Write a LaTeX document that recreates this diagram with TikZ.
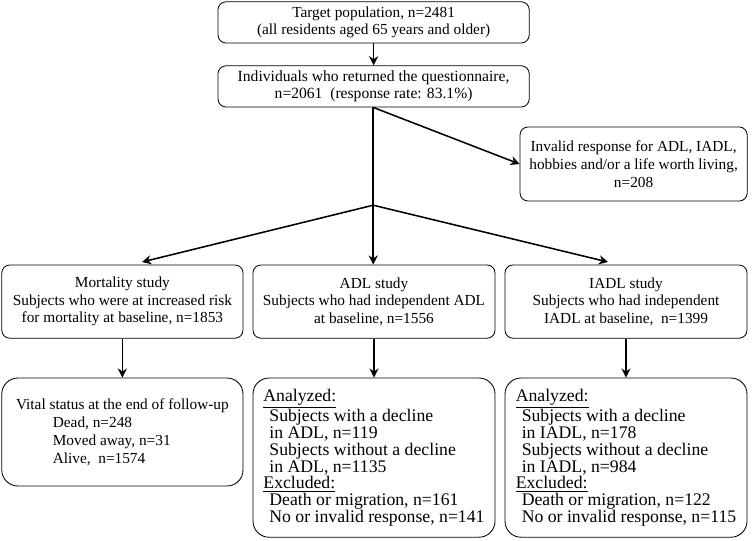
\documentclass[tikz,border=0pt]{standalone}
\usepackage{fontspec}
\setmainfont{Liberation Serif}
\usetikzlibrary{arrows.meta, positioning, calc}
\newcommand{\ind}{\hspace*{0.15cm}}
\newcommand{\subind}{\hspace*{0.92cm}}

\tikzset{
  box/.style={draw, rounded corners=0.2cm, line width=0.6pt, align=center, inner sep=2pt},
  resbox/.style={box, rounded corners=0.4cm, align=left},
  bigtext/.style={font=\fontsize{12.6}{12}\selectfont},
  flow/.style={-{Stealth[length=6.5pt, width=6.5pt]}, line width=1.1pt},
}

\begin{document}
\begin{tikzpicture}[font=\fontsize{10.9}{12.6}\selectfont]
\useasboundingbox (0,0) rectangle (18.825,-13.5);

\node[box, minimum width=7.78cm, minimum height=1.03cm, font=\fontsize{10.9}{12.1}\selectfont] (target) at (9.34,-0.56)
     {Target population, n=2481\\(all residents aged 65 years and older)};
\node[box, minimum width=7.78cm, minimum height=1.03cm, font=\fontsize{11.1}{12.1}\selectfont] (returned) at (9.34,-2.16)
     {Individuals who returned the questionnaire,\\n=2061\ \ (response rate: 83.1\%)};
\node[box, minimum width=5.68cm, minimum height=1.85cm] (invalid) at (15.84,-4.10)
     {Invalid response for ADL, IADL,\\hobbies and/or a life worth living,\\n=208};

\node[box, minimum width=6.03cm, minimum height=1.83cm] (mort) at (3.06,-7.54)
     {Mortality study\\Subjects who were at increased risk\\for mortality at baseline, n=1853};
\node[box, minimum width=6.05cm, minimum height=1.83cm] (adl) at (9.35,-7.54)
     {ADL study\\Subjects who had independent ADL\\at baseline, n=1556};
\node[box, minimum width=6.05cm, minimum height=1.83cm] (iadl) at (15.65,-7.54)
     {IADL study\\Subjects who had independent\\IADL at baseline,\ \ n=1399};

\node[resbox, minimum width=6.03cm, minimum height=2.70cm, font=\fontsize{10.9}{12.8}\selectfont] (vital) at (3.06,-10.80)
     {Vital status at the end of follow-up\\\subind Dead, n=248\\\subind Moved away, n=31\\\subind Alive,\ \ n=1574};
\node[resbox, bigtext, minimum width=6.05cm, minimum height=3.98cm] (adlres) at (9.35,-11.44)
     {\underline{Analyzed:}\\\ind Subjects with a decline\\\ind in ADL, n=119\\\ind Subjects without a decline\\\ind in ADL, n=1135\\
      \underline{Excluded:}\\\ind Death or migration, n=161\\\ind No or invalid response, n=141};
\node[resbox, bigtext, minimum width=6.05cm, minimum height=3.98cm] (iadlres) at (15.65,-11.44)
     {\underline{Analyzed:}\\\ind Subjects with a decline\\\ind in IADL, n=178\\\ind Subjects without a decline\\\ind in IADL, n=984\\
      \underline{Excluded:}\\\ind Death or migration, n=122\\\ind No or invalid response, n=115};

% split point and arrow ends
\coordinate (split) at (9.33,-5.13);
\coordinate (mtip) at (3.55,-6.55);
\coordinate (itip) at (15.2,-6.55);

\draw[flow] (target) -- (returned);
\draw[line width=1.1pt] (returned.south -| split) -- (split);
\draw[flow] (returned.south -| split |- invalid.west) -- (invalid.west);
\draw[flow] (split) -- (mtip);
\draw[flow] (split) -- (split |- adl.north);
\draw[flow] (split) -- (itip);

\draw[flow] (mort.south) -- (vital.north);
\draw[flow] (adl.south) -- (adlres.north);
\draw[flow] (iadl.south) -- (iadlres.north);
\end{tikzpicture}
\end{document}
